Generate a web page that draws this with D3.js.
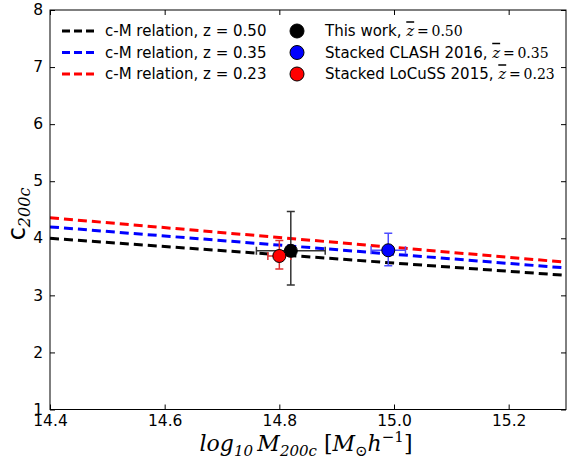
<!DOCTYPE html>
<html>
<head>
<meta charset="utf-8">
<script src="https://cdn.jsdelivr.net/npm/d3@7"></script>
<style>
  html, body { margin: 0; padding: 0; background: #fff; }
  svg { display: block; }
</style>
</head>
<body>
<svg id="chart" width="569" height="462"></svg>
<script>
// c-M relation curves: [log10 M200c, c200c] endpoints for each redshift
const relationZ = ["0.50", "0.35", "0.23"];
const relationColors = ["#000000", "#0000ff", "#ff0000"];
const relationBlack = [[14.4, 4.00], [15.3, 3.35]];
const relationBlue  = [[14.4, 4.20], [15.3, 3.48]];
const relationRed   = [[14.4, 4.36], [15.3, 3.58]];

// Measurements: logM, xerr, c, lower c error, upper c error
const pointNames = ["This work, ", "Stacked CLASH 2016, ", "Stacked LoCuSS 2015, "];
const pointZ = ["0.50", "0.35", "0.23"];
const pointLogM = [14.82, 14.99, 14.80];
const pointXErr = [0.06, 0.03, 0.02];
const pointC = [3.78, 3.79, 3.69];
const pointCErrLow = [0.60, 0.27, 0.23];
const pointCErrHigh = [0.69, 0.30, 0.27];
const pointFill = ["#000000", "#0000ff", "#ff0000"];
const pointErrColor = ["#333333", "#4d4dff", "#e03030"];

const xTicks = [14.4, 14.6, 14.8, 15.0, 15.2];
const yTicks = [1, 2, 3, 4, 5, 6, 7, 8];

const svg = d3.select("#chart");
const L = 50, R = 566, T = 10, B = 409.5;

const x = d3.scaleLinear().domain([14.4, 15.3]).range([L, R]);
const y = d3.scaleLinear().domain([1, 8]).range([B, T]);

svg.append("defs").append("clipPath").attr("id", "plotclip")
  .append("rect").attr("x", L).attr("y", T).attr("width", R - L).attr("height", B - T);

const plot = svg.append("g").attr("clip-path", "url(#plotclip)");

// relation lines
const lineGen = d3.line().x(d => x(d[0])).y(d => y(d[1]));
[relationBlack, relationBlue, relationRed].forEach((pts, i) => {
  plot.append("path")
    .attr("d", lineGen(pts))
    .attr("fill", "none")
    .attr("stroke", relationColors[i])
    .attr("stroke-width", 3)
    .attr("stroke-dasharray", "9,5");
});

// error bars and markers
const capW = 4;
const order = [0, 1, 2];
order.forEach(i => {
  const g = plot.append("g").attr("stroke", pointErrColor[i]).attr("stroke-width", 1.5);
  const cx = x(pointLogM[i]), cy = y(pointC[i]);
  const x0 = x(pointLogM[i] - pointXErr[i]), x1 = x(pointLogM[i] + pointXErr[i]);
  const y0 = y(pointC[i] - pointCErrLow[i]), y1 = y(pointC[i] + pointCErrHigh[i]);
  g.append("line").attr("x1", x0).attr("x2", x1).attr("y1", cy).attr("y2", cy);
  g.append("line").attr("x1", cx).attr("x2", cx).attr("y1", y0).attr("y2", y1);
  g.append("line").attr("x1", x0).attr("x2", x0).attr("y1", cy - capW).attr("y2", cy + capW);
  g.append("line").attr("x1", x1).attr("x2", x1).attr("y1", cy - capW).attr("y2", cy + capW);
  g.append("line").attr("x1", cx - capW).attr("x2", cx + capW).attr("y1", y0).attr("y2", y0);
  g.append("line").attr("x1", cx - capW).attr("x2", cx + capW).attr("y1", y1).attr("y2", y1);
});
order.forEach(i => {
  plot.append("circle")
    .attr("cx", x(pointLogM[i])).attr("cy", y(pointC[i]))
    .attr("r", 6.5)
    .attr("fill", pointFill[i])
    .attr("stroke", "#000").attr("stroke-width", 1);
});

// frame
svg.append("rect").attr("x", L).attr("y", T).attr("width", R - L).attr("height", B - T)
  .attr("fill", "none").attr("stroke", "#000").attr("stroke-width", 1);

// axes with inward ticks on all sides
const tickFont = "DejaVu Sans, sans-serif";
const xb = svg.append("g").attr("transform", `translate(0,${B})`)
  .call(d3.axisBottom(x).tickValues(xTicks).tickFormat(d3.format(".1f")).tickSizeInner(-5).tickSizeOuter(0).tickPadding(3));
const yl = svg.append("g").attr("transform", `translate(${L},0)`)
  .call(d3.axisLeft(y).tickValues(yTicks).tickFormat(d3.format("d")).tickSizeInner(-5).tickSizeOuter(0).tickPadding(7));
const xt = svg.append("g").attr("transform", `translate(0,${T})`)
  .call(d3.axisTop(x).tickValues(xTicks).tickFormat("").tickSizeInner(-5).tickSizeOuter(0));
const yr = svg.append("g").attr("transform", `translate(${R},0)`)
  .call(d3.axisRight(y).tickValues(yTicks).tickFormat("").tickSizeInner(-5).tickSizeOuter(0));
[xb, yl, xt, yr].forEach(g => {
  g.select(".domain").remove();
  g.selectAll(".tick line").attr("stroke", "#000");
  g.selectAll("text").attr("font-family", tickFont).attr("font-size", 15.5).attr("fill", "#000");
});
xb.selectAll("text").attr("dy", "0.85em");
yl.selectAll("text").attr("dy", "0.3em");

// axis labels
const serif = "DejaVu Serif, serif";
const xl = svg.append("text").attr("x", 306).attr("y", 451)
  .attr("text-anchor", "middle").attr("font-family", serif).attr("font-style", "italic")
  .attr("font-size", 22).attr("fill", "#000");
xl.append("tspan").text("log");
xl.append("tspan").attr("font-size", 15).attr("dy", 5).text("10");
xl.append("tspan").attr("dy", -5).text("\u2009M");
xl.append("tspan").attr("font-size", 15).attr("dy", 5).text("200c");
xl.append("tspan").attr("dy", -5).attr("font-style", "normal").text(" [");
xl.append("tspan").text("M");
xl.append("tspan").attr("font-size", 15).attr("dy", 5).attr("font-style", "normal").text("\u2299");
xl.append("tspan").attr("dy", -5).text("h");
xl.append("tspan").attr("font-size", 15).attr("dy", -9).attr("font-style", "normal").text("\u22121");
xl.append("tspan").attr("dy", 9).attr("font-style", "normal").text("]");

const ylab = svg.append("text").attr("transform", `translate(25,214) rotate(-90)`)
  .attr("text-anchor", "middle").attr("fill", "#000");
ylab.append("tspan").attr("font-family", tickFont).attr("font-size", 24).text("c");
ylab.append("tspan").attr("font-family", serif).attr("font-style", "italic").attr("font-size", 16).attr("dy", 5).text("200c");

// legend
const rowY = [31, 52.5, 74];
const leg = svg.append("g");
relationZ.forEach((z, i) => {
  leg.append("line").attr("x1", 62).attr("x2", 94).attr("y1", rowY[i]).attr("y2", rowY[i])
    .attr("stroke", relationColors[i]).attr("stroke-width", 3).attr("stroke-dasharray", "8,4");
  leg.append("text").attr("x", 105).attr("y", rowY[i]).attr("dy", "0.35em")
    .attr("font-family", tickFont).attr("font-size", 15).attr("fill", "#000")
    .text(`c-M relation, z = ${z}`);
});
pointNames.forEach((name, i) => {
  leg.append("circle").attr("cx", 297).attr("cy", rowY[i]).attr("r", 7)
    .attr("fill", pointFill[i]).attr("stroke", "#000").attr("stroke-width", 1);
  const t = leg.append("text").attr("x", 325).attr("y", rowY[i]).attr("dy", "0.35em")
    .attr("font-family", tickFont).attr("font-size", 15).attr("fill", "#000");
  t.append("tspan").text(name);
  t.append("tspan").attr("font-family", serif).attr("font-style", "italic")
    .attr("text-decoration", "overline").text("z");
  t.append("tspan").attr("font-family", serif).attr("font-size", 14).text(`\u2009=\u20090.${pointZ[i].slice(2)}`);
});
</script>
</body>
</html>
